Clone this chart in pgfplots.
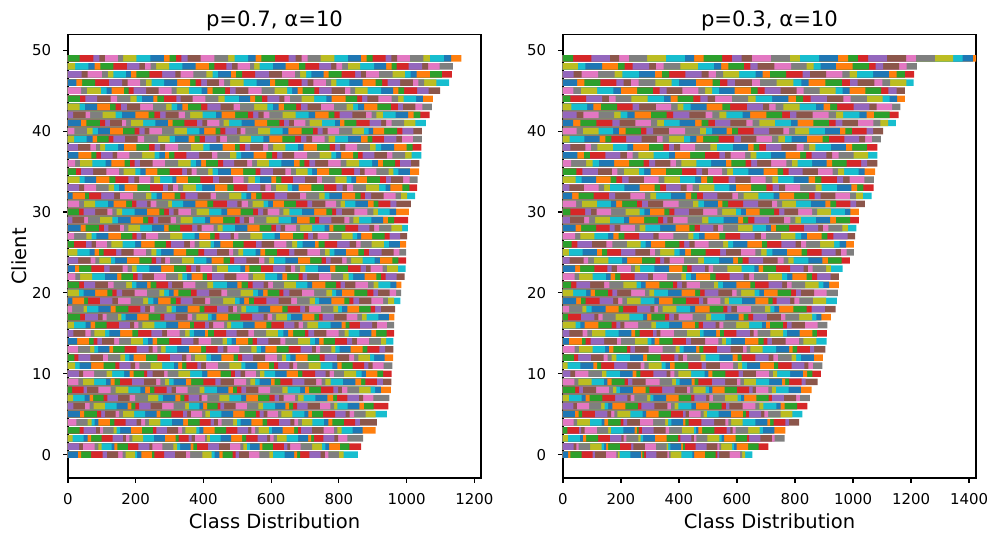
\documentclass[border=0pt]{standalone}
\usepackage{fontspec}
\setmainfont{DejaVu Sans}
\usepackage{pgfplots}
\usepackage{pgfplotstable}
\pgfplotsset{compat=1.18}
\definecolor{t0}{RGB}{31,119,180}
\definecolor{t1}{RGB}{255,127,14}
\definecolor{t2}{RGB}{44,160,44}
\definecolor{t3}{RGB}{214,39,40}
\definecolor{t4}{RGB}{148,103,189}
\definecolor{t5}{RGB}{140,86,75}
\definecolor{t6}{RGB}{227,119,194}
\definecolor{t7}{RGB}{127,127,127}
\definecolor{t8}{RGB}{188,189,34}
\definecolor{t9}{RGB}{23,190,207}

% ---------- p=0.7: cumulative class boundaries per client ----------
\def\hdrL{c b1 b2 b3 b4 b5 b6 b7 b8 b9 b10 b11 b12 b13 b14 b15 b16 b17 b18 b19 b20 b21 b22 b23 b24 b25 b26 b27 b28 b29 b30 b31 b32 b33 b34 b35 b36 b37 b38 b39 b40}
\pgfplotstableread{
c b1 b2 b3 b4 b5 b6 b7 b8 b9 b10 b11 b12 b13 b14 b15 b16 b17 b18 b19 b20 b21 b22 b23 b24 b25 b26 b27 b28 b29 b30 b31 b32 b33 b34 b35 b36 b37 b38 b39 b40
0 29 39 68 102 115 148 161 170 198 204 217 248 255 284 316 348 361 397 424 433 447 457 486 495 505 534 565 595 605 640 668 677 686 713 746 759 769 800 814 856
5 35 48 85 98 109 141 151 162 195 228 262 273 305 339 352 363 396 406 419 453 488 522 555 566 578 589 620 630 663 698 710 720 753 789 820 832 845 879 909 942
14 27 62 76 87 100 136 151 186 221 236 250 263 299 335 370 386 423 457 469 483 496 532 545 558 592 627 642 679 715 729 742 755 788 824 839 853 889 924 940 961
19 13 48 59 94 131 147 185 222 237 252 266 303 319 333 368 405 420 458 493 507 520 534 549 586 622 659 676 714 729 742 778 816 831 843 860 896 931 945 963 982
23 20 33 69 107 123 161 176 189 203 240 275 313 349 364 378 391 426 440 472 509 523 536 570 606 642 658 671 685 701 738 774 790 827 864 880 894 929 942 974 997
28 37 52 91 106 119 153 165 178 213 248 284 297 331 367 382 395 430 442 457 493 530 566 601 614 628 641 674 686 721 758 772 784 819 857 890 904 919 955 987 1004
32 14 50 62 98 136 153 192 230 246 262 277 315 332 347 383 421 437 476 512 527 541 556 572 610 647 685 703 742 758 772 809 848 864 877 895 932 968 983 1002 1025
37 31 69 84 97 132 145 181 219 256 270 286 299 314 350 387 425 441 478 497 511 548 586 603 618 633 668 706 743 778 792 807 842 856 870 905 942 958 996 1015 1044
41 38 54 94 110 124 159 172 186 222 258 295 309 344 381 397 411 447 460 476 513 551 588 624 638 653 667 701 714 750 788 803 816 852 891 925 940 956 993 1026 1057
46 25 42 80 121 160 176 213 230 247 284 322 361 377 393 410 446 461 479 519 557 596 612 651 690 708 725 762 777 793 831 870 909 928 944 981 1019 1035 1052 1088 1126
}\LA
\pgfplotstableread{
c b1 b2 b3 b4 b5 b6 b7 b8 b9 b10 b11 b12 b13 b14 b15 b16 b17 b18 b19 b20 b21 b22 b23 b24 b25 b26 b27 b28 b29 b30 b31 b32 b33 b34 b35 b36 b37 b38 b39 b40
1 33 44 79 90 99 129 137 146 177 208 240 249 279 311 322 331 362 370 381 413 446 478 509 518 528 537 566 574 605 638 648 656 687 721 750 760 771 803 831 866
6 16 50 64 76 109 144 176 187 199 210 244 278 312 346 357 388 399 411 442 450 461 495 528 562 576 612 642 653 665 677 708 744 775 786 796 826 861 874 903 946
10 32 45 77 114 130 166 182 194 225 234 250 284 294 326 361 396 412 451 481 493 510 523 555 567 580 612 646 679 692 730 761 773 785 815 851 867 880 914 931 956
15 16 51 67 78 110 122 154 190 207 246 278 292 330 346 359 372 404 413 431 467 498 533 549 585 620 636 650 665 700 710 727 763 799 817 829 861 896 910 941 963
24 30 67 81 93 127 139 174 211 247 260 275 287 301 336 372 409 424 460 478 491 527 564 580 594 608 642 679 715 749 762 776 810 823 836 870 906 921 958 976 999
29 13 48 59 94 131 147 185 222 237 252 266 303 319 333 368 405 420 458 493 507 520 534 549 586 622 659 676 714 729 742 778 816 831 843 860 896 931 945 963 1005
33 33 48 83 120 136 150 167 205 242 280 295 310 325 340 378 396 434 471 489 530 568 583 599 614 649 662 681 719 756 793 811 824 842 880 919 938 952 988 1008 1031
38 29 66 82 95 110 148 165 202 239 256 272 287 325 363 400 418 457 493 507 523 538 576 591 606 642 679 696 735 773 789 804 819 854 892 909 925 963 1000 1018 1044
42 15 52 65 102 141 159 199 238 255 272 288 327 345 361 398 437 454 494 531 547 562 578 595 634 672 711 730 770 787 802 840 880 897 911 930 968 1005 1021 1041 1068
47 40 58 100 118 134 171 186 202 240 278 317 333 370 409 427 443 481 496 514 553 593 632 670 686 703 719 755 770 808 848 865 880 918 959 995 1012 1030 1069 1104 1134
}\LB
\pgfplotstableread{
c b1 b2 b3 b4 b5 b6 b7 b8 b9 b10 b11 b12 b13 b14 b15 b16 b17 b18 b19 b20 b21 b22 b23 b24 b25 b26 b27 b28 b29 b30 b31 b32 b33 b34 b35 b36 b37 b38 b39 b40
2 14 46 58 68 99 132 162 171 181 190 222 254 286 318 327 356 365 375 404 410 419 451 482 514 526 560 588 597 607 617 646 680 709 718 726 754 787 798 825 872
7 15 49 64 74 105 116 147 182 198 236 267 280 317 332 344 356 387 395 412 447 477 511 526 561 595 610 623 637 671 680 696 731 766 783 794 825 859 872 902 949
11 21 34 68 105 140 152 185 198 211 244 278 313 325 337 350 382 393 407 443 477 512 524 559 594 608 621 654 665 677 711 746 781 796 808 841 875 887 900 932 958
16 17 52 67 80 114 150 183 195 208 220 255 290 325 360 372 404 416 429 461 470 482 517 551 586 601 638 669 681 694 707 739 776 808 820 831 862 898 912 942 963
20 32 46 80 116 131 144 160 197 233 270 284 298 312 326 363 380 417 453 470 510 547 561 576 590 624 636 654 691 727 763 780 792 809 846 884 902 915 950 969 984
25 28 64 79 91 105 142 158 194 230 246 261 275 312 349 385 402 440 475 488 503 517 554 568 582 617 653 669 707 744 759 773 787 821 858 874 889 926 962 979 999
34 34 49 83 122 140 178 196 210 243 254 272 308 320 354 391 428 446 487 519 533 552 567 601 615 630 664 700 735 750 790 823 837 851 883 921 939 954 990 1009 1033
39 18 55 73 86 120 134 168 206 225 266 300 316 356 374 389 404 438 449 469 507 540 577 595 633 670 688 704 721 758 770 789 827 865 885 899 933 970 986 1019 1045
43 34 50 86 124 141 156 174 213 251 290 306 322 338 354 393 412 451 489 508 550 589 605 622 638 674 688 708 747 785 823 842 856 875 914 954 974 989 1026 1047 1075
48 21 60 79 96 134 174 211 227 244 260 299 338 377 416 432 468 484 501 537 550 566 605 643 682 701 742 777 793 810 827 863 904 940 956 971 1006 1046 1064 1098 1137
}\LC
\pgfplotstableread{
c b1 b2 b3 b4 b5 b6 b7 b8 b9 b10 b11 b12 b13 b14 b15 b16 b17 b18 b19 b20 b21 b22 b23 b24 b25 b26 b27 b28 b29 b30 b31 b32 b33 b34 b35 b36 b37 b38 b39 b40
3 34 46 82 94 104 135 144 154 186 218 251 261 292 325 337 347 379 388 400 433 467 500 532 542 553 563 593 602 634 668 679 688 720 755 785 796 808 841 870 909
8 12 46 56 90 126 141 178 214 228 242 255 291 306 319 353 389 403 440 474 487 499 512 526 562 597 633 649 686 700 712 747 784 798 809 825 860 894 907 924 954
12 19 31 66 103 118 155 169 181 194 230 264 301 336 350 363 375 409 422 453 489 502 514 547 582 617 632 644 657 672 708 743 758 794 830 845 858 892 904 935 960
17 36 50 88 102 114 147 158 170 204 238 273 285 318 353 367 379 413 424 438 473 509 544 578 590 603 615 647 658 692 728 741 752 786 823 855 868 882 917 948 964
21 33 47 80 118 135 172 189 202 234 244 261 296 307 340 376 412 429 469 500 513 531 545 578 591 605 638 673 707 721 760 792 805 818 849 886 903 917 952 970 985
26 17 53 70 82 115 128 161 198 216 256 289 304 343 360 374 388 421 431 450 487 519 555 572 609 645 662 677 693 729 740 758 795 832 851 864 897 933 948 980 999
30 32 46 80 116 131 144 160 197 233 270 284 298 312 326 363 380 417 453 470 510 547 561 576 590 624 636 654 691 727 763 780 792 809 846 884 902 915 950 969 1007
35 23 38 74 113 150 164 199 214 229 264 300 337 351 365 380 414 427 443 481 517 554 568 605 642 658 673 708 721 735 771 808 845 862 876 911 947 961 976 1010 1037
44 35 51 86 126 145 184 203 218 252 264 283 320 333 368 406 444 463 505 538 553 573 589 624 639 655 690 727 763 779 820 854 869 884 917 956 975 991 1028 1048 1078
49 34 75 93 109 147 163 202 243 283 300 319 335 353 392 432 473 492 532 554 571 611 652 672 690 708 746 787 827 865 882 900 938 955 972 1010 1050 1069 1110 1132 1162
}\LD
\pgfplotstableread{
c b1 b2 b3 b4 b5 b6 b7 b8 b9 b10 b11 b12 b13 b14 b15 b16 b17 b18 b19 b20 b21 b22 b23 b24 b25 b26 b27 b28 b29 b30 b31 b32 b33 b34 b35 b36 b37 b38 b39 b40
4 25 58 70 79 90 124 137 170 203 216 228 239 273 307 340 354 389 421 431 443 454 488 499 510 542 575 588 623 657 669 680 691 722 756 769 781 815 848 862 912
9 31 44 77 112 126 138 153 189 224 260 273 286 299 312 348 364 400 435 451 490 526 539 553 566 599 610 627 663 698 733 749 760 776 812 849 866 878 912 930 955
13 29 65 78 89 122 133 167 203 238 250 264 275 288 322 357 393 407 442 459 471 506 542 557 570 583 616 652 687 720 732 745 778 790 802 835 870 884 920 937 961
18 12 46 56 90 126 141 178 214 228 242 255 291 306 319 353 389 403 440 474 487 499 512 526 562 597 633 649 686 700 712 747 784 798 809 825 860 894 907 924 966
22 22 36 71 109 145 158 192 206 220 254 289 325 338 351 365 398 410 425 462 497 533 546 582 618 633 647 681 693 706 741 777 813 829 842 876 911 924 938 971 994
27 18 54 70 84 119 156 190 203 217 230 266 302 338 374 387 420 433 447 480 490 503 539 574 610 626 664 696 709 723 737 770 808 841 854 866 898 935 950 981 1002
31 33 47 80 118 135 172 189 202 234 244 261 296 307 340 376 412 429 469 500 513 531 545 578 591 605 638 673 707 721 760 792 805 818 849 886 903 917 952 970 1013
36 21 35 72 111 128 167 183 197 212 250 286 325 362 378 393 407 443 458 491 529 544 558 593 630 667 684 698 713 730 768 805 822 860 898 915 930 966 980 1013 1038
40 19 56 73 88 124 162 197 211 226 240 277 314 351 388 402 436 450 465 499 510 524 561 597 634 651 690 723 737 752 767 801 840 874 888 901 934 972 988 1020 1045
45 39 56 97 114 129 165 179 194 231 268 306 321 357 395 412 427 464 478 495 533 572 610 647 662 678 693 728 742 779 818 834 848 885 925 960 976 993 1031 1065 1099
}\LE

% ---------- p=0.3: cumulative class boundaries per client ----------
\pgfplotstableread{
c b1 b2 b3 b4 b5 b6 b7 b8 b9 b10 b11 b12 b13 b14 b15 b16 b17 b18 b19 b20 b21 b22 b23 b24 b25 b26 b27 b28 b29 b30
0 18 26 64 102 110 148 184 189 195 232 269 274 280 286 322 360 365 371 408 446 452 489 526 532 538 575 611 618 628 653
5 41 54 66 110 153 166 177 188 232 275 287 330 372 413 423 434 475 485 496 537 579 620 631 641 683 694 707 750 791 825
14 20 65 78 95 142 186 200 248 292 305 316 332 378 424 441 490 536 549 562 580 627 674 692 705 720 768 813 829 874 909
19 45 62 78 126 173 190 205 220 268 315 331 378 424 469 483 498 543 557 572 617 663 708 723 737 783 798 815 862 907 944
23 42 59 108 153 168 186 234 248 266 315 366 412 428 444 489 502 518 567 616 660 675 690 734 783 830 844 861 907 924 964
28 44 63 114 161 178 198 248 264 284 335 388 436 454 472 519 534 552 603 654 700 717 734 780 831 880 896 915 963 982 1012
32 32 54 106 158 180 232 282 301 321 372 423 442 462 482 532 584 603 623 674 726 746 797 848 868 888 939 989 1010 1034 1064
37 50 72 93 146 198 220 240 260 313 365 386 438 489 539 558 578 628 647 667 717 768 818 838 857 908 928 950 1002 1052 1084
41 35 60 115 170 195 250 303 325 348 402 456 478 501 524 577 632 654 677 731 786 809 863 917 940 963 1017 1070 1094 1121 1148
46 49 74 129 184 209 234 261 319 375 400 458 516 541 567 593 651 679 737 794 822 847 905 962 989 1016 1074 1101 1128 1184 1209
}\RA
\pgfplotstableread{
c b1 b2 b3 b4 b5 b6 b7 b8 b9 b10 b11 b12 b13 b14 b15 b16 b17 b18 b19 b20 b21 b22 b23 b24 b25 b26 b27 b28 b29 b30
1 37 46 54 94 133 142 149 156 196 235 243 282 320 357 363 370 407 413 420 457 495 532 539 545 583 590 599 638 675 708
6 36 48 90 132 144 156 170 215 258 270 315 360 372 385 398 443 458 503 547 562 574 619 663 677 691 736 750 764 807 843
10 26 42 88 134 150 196 240 253 267 312 357 370 384 398 442 488 501 515 560 606 620 665 710 724 738 783 827 842 860 889
15 22 68 84 100 146 192 236 249 264 310 323 336 382 427 472 485 528 541 555 598 644 657 671 715 759 772 816 860 875 910
24 23 71 87 107 157 204 221 272 319 335 349 368 417 466 486 538 587 603 619 640 690 740 761 777 795 846 894 913 961 989
29 24 73 90 111 162 210 228 280 328 345 360 380 430 480 501 554 604 621 638 660 711 762 784 801 820 872 921 941 990 1020
33 22 72 123 142 162 212 264 316 335 355 406 426 447 469 522 574 596 649 701 723 744 766 818 871 892 944 994 1014 1036 1071
38 26 77 96 119 172 222 242 296 346 365 382 404 456 508 531 586 638 657 676 700 753 806 830 849 870 924 975 997 1048 1084
42 47 70 123 176 199 222 247 303 357 380 436 492 515 539 563 619 645 701 756 782 805 861 916 941 966 1022 1047 1072 1126 1157
47 37 64 121 178 205 262 317 341 366 422 478 502 527 552 607 664 688 713 769 826 851 907 963 988 1013 1069 1124 1150 1179 1211
}\RB
\pgfplotstableread{
c b1 b2 b3 b4 b5 b6 b7 b8 b9 b10 b11 b12 b13 b14 b15 b16 b17 b18 b19 b20 b21 b22 b23 b24 b25 b26 b27 b28 b29 b30
2 17 58 69 80 121 162 201 209 219 260 268 276 317 357 397 405 443 451 460 498 539 547 556 595 634 642 681 720 730 764
7 20 64 78 92 136 180 222 233 246 290 301 312 356 399 442 453 494 505 517 558 602 613 625 667 709 720 762 804 817 851
11 16 60 105 118 132 176 222 268 281 295 340 354 369 385 432 478 494 541 587 603 618 634 680 727 742 788 832 846 862 894
16 44 60 75 122 168 184 198 212 259 305 320 366 411 455 468 482 526 539 553 597 642 686 700 713 758 772 788 834 878 912
20 35 80 95 110 155 170 187 235 282 298 314 362 409 456 473 488 536 583 599 614 661 677 693 740 787 803 820 866 909 948
25 20 68 117 134 152 200 250 300 317 335 384 402 421 441 492 542 562 613 663 683 702 722 772 823 842 892 940 958 978 1003
34 44 64 114 164 184 204 226 279 330 350 403 456 476 497 518 571 594 647 699 722 742 795 847 869 891 944 966 988 1039 1072
39 23 74 126 146 167 218 271 324 344 365 417 438 460 483 537 590 613 667 720 743 765 788 841 895 917 970 1021 1042 1065 1096
43 29 83 105 131 187 240 263 320 373 395 415 440 495 550 576 634 689 711 733 760 816 872 899 921 945 1002 1056 1081 1135 1163
48 51 77 135 189 213 240 297 320 347 405 465 520 545 570 624 646 671 729 787 840 864 888 941 999 1055 1078 1104 1159 1185 1220
}\RC
\pgfplotstableread{
c b1 b2 b3 b4 b5 b6 b7 b8 b9 b10 b11 b12 b13 b14 b15 b16 b17 b18 b19 b20 b21 b22 b23 b24 b25 b26 b27 b28 b29 b30
3 15 55 63 75 117 156 165 208 247 255 261 272 313 354 366 410 451 459 467 480 522 564 577 585 595 638 678 689 729 767
8 42 56 69 114 158 172 184 196 241 285 298 342 385 427 438 450 492 503 515 557 600 642 654 665 708 720 734 778 820 857
12 38 52 96 140 154 168 184 231 276 290 337 384 398 413 428 475 492 539 585 602 616 663 709 725 741 788 804 820 865 896
17 17 62 108 122 137 182 229 276 290 305 351 366 382 399 447 494 511 559 606 623 639 656 703 751 767 814 859 874 891 924
21 28 46 94 142 160 208 254 269 285 332 379 394 410 426 472 520 535 551 598 646 662 709 756 772 788 835 881 898 918 951
26 30 50 100 150 170 220 268 285 303 352 401 418 436 454 502 552 569 587 636 686 704 753 802 820 838 887 935 954 976 1003
30 26 76 96 116 166 216 264 281 300 350 367 384 434 483 532 549 596 613 631 678 728 745 763 811 859 876 924 972 991 1020
35 46 67 120 169 188 210 262 280 302 355 410 460 480 500 549 566 586 639 692 740 759 778 826 879 930 948 969 1019 1040 1076
44 26 80 135 158 182 236 292 348 371 395 450 474 499 525 582 638 664 721 777 803 828 854 910 967 992 1048 1102 1126 1152 1179
49 35 98 162 194 227 290 355 420 452 485 549 582 616 651 717 782 817 883 948 983 1017 1052 1117 1183 1217 1282 1345 1378 1413 1440
}\RD
\pgfplotstableread{
c b1 b2 b3 b4 b5 b6 b7 b8 b9 b10 b11 b12 b13 b14 b15 b16 b17 b18 b19 b20 b21 b22 b23 b24 b25 b26 b27 b28 b29 b30
4 37 49 93 133 143 156 199 208 221 265 311 352 363 374 414 422 433 477 521 560 570 580 619 663 705 714 726 767 779 814
9 39 53 99 141 153 168 213 224 239 285 333 376 389 402 444 454 467 513 559 600 612 624 665 711 755 766 780 823 837 878
13 40 55 102 145 158 174 220 232 248 295 344 388 402 416 459 470 484 531 578 620 633 646 688 735 780 792 807 851 866 905
18 21 67 81 99 147 192 207 256 301 315 327 344 391 438 456 506 553 567 581 600 648 696 715 729 745 794 840 857 903 940
22 40 56 102 148 164 180 198 247 294 310 359 408 424 441 458 507 526 575 623 642 658 707 755 773 791 840 858 876 923 951
27 42 60 108 156 174 192 212 263 312 330 381 432 450 469 488 539 560 611 661 682 700 751 801 821 841 892 912 932 981 1007
31 45 65 117 165 183 204 255 272 293 345 399 448 467 486 534 550 569 621 673 720 738 756 803 855 905 922 942 991 1011 1041
36 28 80 102 124 176 228 278 297 318 370 389 408 460 511 562 581 630 649 669 718 770 789 809 859 909 928 978 1028 1049 1084
40 47 69 123 173 193 216 269 288 311 365 421 472 493 514 564 582 603 657 711 760 780 800 849 903 955 974 996 1047 1069 1104
45 36 62 118 174 200 256 310 333 357 412 467 490 514 538 592 648 671 695 750 806 830 885 940 964 988 1043 1097 1122 1150 1179
}\RE

% draw one group of clients: #1 table, #2 series list (descending), #3 colour phase
\newcommand{\drawrows}[3]{%
  \pgfplotsinvokeforeach{#2}{%
    \pgfmathtruncatemacro\ci{mod(##1-1+#3,10)}%
    \edef\tmp{\noexpand\addplot[draw=none, bar shift=0pt, fill=t\ci] table[x=b##1, y=c]{\noexpand#1};}%
    \tmp
  }%
}

\pgfplotsset{
  panel/.style={
    scale only axis, width=298.5pt, height=320.2pt,
    ymin=-2.89, ymax=51.89,
    xbar, bar width=0.8, bar shift=0pt,
    ytick={0,10,20,30,40,50},
    tick align=outside, tick pos=left,
    major tick length=3.6pt,
    every tick/.style={black, line width=0.8pt},
    axis line style={black, line width=0.8pt},
    /pgf/number format/assume math mode=true,
    /pgf/number format/1000 sep={},
    scaled ticks=false,
    tick label style={font=\fontsize{10.8}{13}\selectfont},
    xticklabel style={anchor=base, yshift=-15.9pt},
    yticklabel style={anchor=east, xshift=-5pt},
    every axis title/.style={at={(0.5,1.0188)}, anchor=base, font=\fontsize{15.3}{18}\selectfont},
    every axis x label/.style={at={(0.5,-0.1129)}, anchor=base, font=\fontsize{14.1}{17}\selectfont},
    every axis y label/.style={at={(-0.0993,0.5)}, anchor=base, rotate=90, font=\fontsize{14.1}{17}\selectfont},
  }
}

\begin{document}
\begin{tikzpicture}
\useasboundingbox (-49.14pt,-39.75pt) rectangle (665.6pt,345.45pt);
\begin{axis}[panel, at={(0pt,0pt)}, anchor=south west,
  xmin=0, xmax=1220, xtick={0,200,400,600,800,1000,1200},
  title={p=0.7, α=10}, xlabel={Class Distribution}, ylabel={Client}]
\drawrows{\LA}{40,39,...,1}{0}
\drawrows{\LB}{40,39,...,1}{4}
\drawrows{\LC}{40,39,...,1}{8}
\drawrows{\LD}{40,39,...,1}{2}
\drawrows{\LE}{40,39,...,1}{6}
\end{axis}
\begin{axis}[panel, at={(357.7pt,0pt)}, anchor=south west,
  xmin=0, xmax=1424, xtick={0,200,400,600,800,1000,1200,1400},
  title={p=0.3, α=10}, xlabel={Class Distribution}]
\drawrows{\RA}{30,29,...,1}{0}
\drawrows{\RB}{30,29,...,1}{4}
\drawrows{\RC}{30,29,...,1}{8}
\drawrows{\RD}{30,29,...,1}{2}
\drawrows{\RE}{30,29,...,1}{6}
\end{axis}
\end{tikzpicture}
\end{document}
